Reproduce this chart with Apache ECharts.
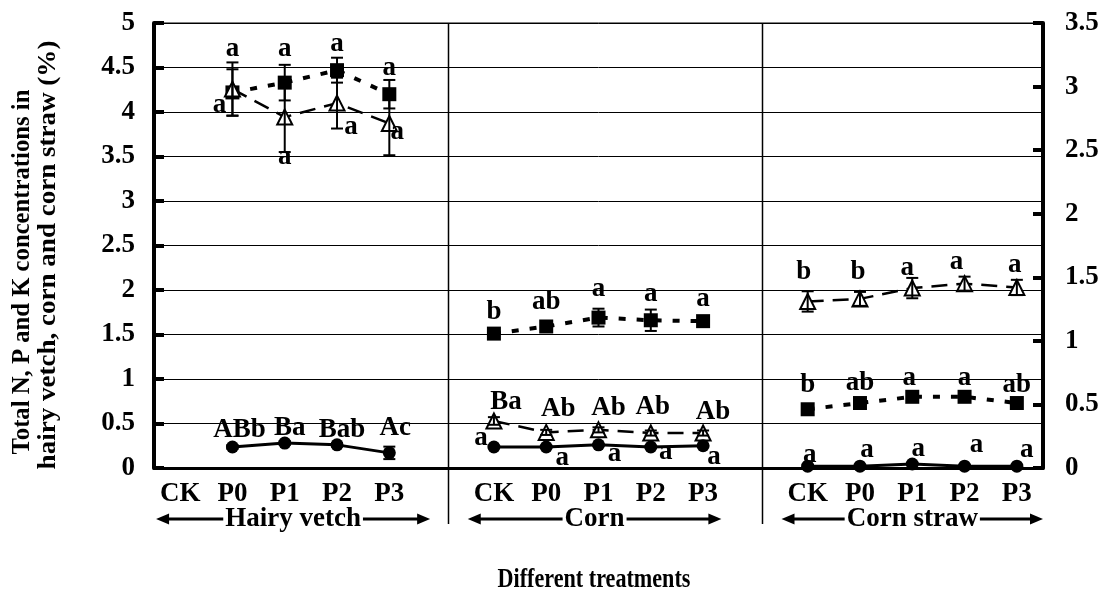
<!DOCTYPE html>
<html>
<head>
<meta charset="utf-8">
<script src="https://cdn.jsdelivr.net/npm/echarts@6/dist/echarts.min.js"></script>
<style>html,body{margin:0;padding:0;background:#fff}#chart{width:1106px;height:615px}</style>
</head>
<body>
<div id="chart"></div>
<script>
// ---------- data ----------
const categories = ['CK','P0','P1','P2','P3','','CK','P0','P1','P2','P3','','CK','P0','P1','P2','P3'];
const groupNames = ['Hairy vetch','Corn','Corn straw'];
const groupFirst = [0, 6, 12];
const groupLast = [4, 10, 16];
const leftMin = 0, leftMax = 5, leftStep = 0.5;
const rightMin = 0, rightMax = 3.5, rightStep = 0.5;

// Total N (filled squares, left axis)
const nValues = [null,4.22,4.33,4.47,4.20, null, 1.51,1.59,1.69,1.66,1.65, null, 0.66,0.73,0.80,0.80,0.73];
const nErrors = [null,0.26,0.20,0.14,0.16, null, 0.03,0.04,0.10,0.12,0.05, null, 0.02,0.02,0.02,0.02,0.02];
const nLetters = ['','a','a','a','a','', 'b','ab','a','a','a','', 'b','ab','a','a','ab'];
// Total K (open triangles, right axis)
const kValues = [null,2.98,2.76,2.87,2.71, null, 0.37,0.28,0.30,0.275,0.275, null, 1.31,1.33,1.415,1.45,1.42];
const kErrors = [null,0.21,0.275,0.20,0.25, null, 0.03,0.02,0.02,0.02,0.02, null, 0.08,0.055,0.08,0.055,0.06];
const kLetters = ['','a','a','a','a','', 'Ba','Ab','Ab','Ab','Ab','', 'b','b','a','a','a'];
// Total P (filled circles, left axis)
const pValues = [null,0.236,0.28,0.26,0.17, null, 0.236,0.236,0.26,0.236,0.25, null, 0.02,0.02,0.045,0.02,0.02];
const pErrors = [null,0.02,0.02,0.02,0.07, null, 0.01,0.01,0.01,0.01,0.01, null, 0.01,0.01,0.01,0.01,0.01];
const pLetters = ['','ABb','Ba','Bab','Ac','', 'a','a','a','a','a','', 'a','a','a','a','a'];

// ---------- style: letter placement relative to marker (px) ----------
const nLabelOffset = [null,[0,-43],[0,-34],[0,-26],[0,-26],null,[0,-22],[0,-24],[0,-29],[0,-26],[0,-22],null,[0,-24],[0,-20],[-3,-19],[0,-19],[0,-18]];
const kLabelOffset = [null,[-13,16],[0,40],[14,24],[8,9],null,[12,-19],[12,-23],[10,-22],[2,-26],[10,-21],null,[-4,-29],[-2,-27],[-5,-20],[-8,-22],[-2,-22]];
const pLabelOffset = [null,[7,-17],[5,-15],[5,-15],[6,-25],null,[-13,-9],[16,11],[16,9],[15,5],[11,11],null,[2,-11],[7,-16],[6,-15],[12,-21],[10,-16]];
const arrowExtend = [[0.46, 0.78], [0.5, 0.35], [0.5, 0.5]];

const FONT = '"Liberation Serif", "Times New Roman", serif';
const TXT = {fontFamily: FONT, fontWeight: 'bold', fontSize: 27, color: '#000'};

function pts(vals, errs) {
  const out = [];
  vals.forEach((v, i) => { if (v !== null) out.push([i, v, errs[i]]); });
  return out;
}

function errRender(params, api) {
  const i = api.value(0), v = api.value(1), e = api.value(2);
  const t = api.coord([i, v + e]), b = api.coord([i, v - e]);
  const hw = 6;
  const st = {stroke: '#000', lineWidth: 2, fill: null};
  return {type: 'group', children: [
    {type: 'line', shape: {x1: t[0], y1: t[1], x2: b[0], y2: b[1]}, style: st},
    {type: 'line', shape: {x1: t[0]-hw, y1: t[1], x2: t[0]+hw, y2: t[1]}, style: st},
    {type: 'line', shape: {x1: b[0]-hw, y1: b[1], x2: b[0]+hw, y2: b[1]}, style: st}
  ]};
}

function labelRenderFactory(letters, offsets) {
  return function (params, api) {
    const i = api.value(0), v = api.value(1);
    const c = api.coord([i, v]);
    const off = offsets[i] || [0, 0];
    return {type: 'text', x: c[0] + off[0], y: c[1] + off[1], z2: 10,
      style: {text: letters[i], fontFamily: FONT, fontWeight: 'bold', fontSize: 27, fill: '#000',
        align: 'center', verticalAlign: 'middle'}};
  };
}

const chart = echarts.init(document.getElementById('chart'), null, {renderer: 'canvas'});

const option = {
  animation: false,
  backgroundColor: '#fff',
  grid: {left: 154, right: 63, top: 23, bottom: 147, show: true, borderColor: '#000', borderWidth: 1},
  xAxis: {
    type: 'category', data: categories, boundaryGap: true,
    axisLine: {lineStyle: {color: '#000', width: 3}},
    axisTick: {inside: true, length: 10, lineStyle: {color: '#000', width: 2}},
    axisLabel: Object.assign({}, TXT, {margin: 13, interval: 0}),
    splitLine: {show: false}
  },
  yAxis: [
    {type: 'value', min: leftMin, max: leftMax, interval: leftStep, position: 'left',
     axisLine: {show: true, lineStyle: {color: '#000', width: 4}},
     axisTick: {show: true, inside: true, length: 10, lineStyle: {color: '#000', width: 4}},
     axisLabel: Object.assign({}, TXT, {margin: 19}),
     splitLine: {show: true, lineStyle: {color: '#000', width: 1}}},
    {type: 'value', min: rightMin, max: rightMax, interval: rightStep, position: 'right',
     axisLine: {show: true, lineStyle: {color: '#000', width: 4}},
     axisTick: {show: true, inside: true, length: 10, lineStyle: {color: '#000', width: 4}},
     axisLabel: Object.assign({}, TXT, {margin: 22}),
     splitLine: {show: false}}
  ],
  series: [
    {name: 'N', type: 'line', yAxisIndex: 0, data: nValues, connectNulls: false,
     symbol: 'rect', symbolSize: 14, itemStyle: {color: '#000'},
     lineStyle: {color: '#000', width: 4, type: [7, 11]}, z: 2},
    {name: 'K', type: 'line', yAxisIndex: 1, data: kValues, connectNulls: false,
     symbol: 'triangle', symbolSize: 15, itemStyle: {color: '#fff', borderColor: '#000', borderWidth: 2},
     lineStyle: {color: '#000', width: 2.5, type: [16, 9]}, z: 2},
    {name: 'P', type: 'line', yAxisIndex: 0, data: pValues, connectNulls: false,
     symbol: 'circle', symbolSize: 13, itemStyle: {color: '#000'},
     lineStyle: {color: '#000', width: 3}, z: 2},
    {type: 'custom', yAxisIndex: 0, data: pts(nValues, nErrors), renderItem: errRender, z: 4},
    {type: 'custom', yAxisIndex: 1, data: pts(kValues, kErrors), renderItem: errRender, z: 4},
    {type: 'custom', yAxisIndex: 0, data: pts(pValues, pErrors), renderItem: errRender, z: 4},
    {type: 'custom', yAxisIndex: 0, data: pts(nValues, nErrors), renderItem: labelRenderFactory(nLetters, nLabelOffset), z: 6},
    {type: 'custom', yAxisIndex: 1, data: pts(kValues, kErrors), renderItem: labelRenderFactory(kLetters, kLabelOffset), z: 6},
    {type: 'custom', yAxisIndex: 0, data: pts(pValues, pErrors), renderItem: labelRenderFactory(pLetters, pLabelOffset), z: 6}
  ]
};
chart.setOption(option);

// ---------- decorations placed from the axis scale ----------
const px = i => chart.convertToPixel({xAxisIndex: 0}, i);
const step = px(1) - px(0);
const yTop = chart.convertToPixel({yAxisIndex: 0}, leftMax);
const g = [];
[5, 11].forEach(i => {
  const x = Math.round(px(i) + 0.125 * step) + 0.5;
  g.push({type: 'line', shape: {x1: x, y1: yTop, x2: x, y2: 524}, style: {stroke: '#000', lineWidth: 1.5}, z: 1});
});
const arrowY = 519;
groupNames.forEach((name, k) => {
  const x1 = px(groupFirst[k]) - arrowExtend[k][0] * step;
  const x2 = px(groupLast[k]) + arrowExtend[k][1] * step;
  const cx = (x1 + x2) / 2;
  g.push({type: 'line', shape: {x1: x1 + 8, y1: arrowY, x2: x2 - 8, y2: arrowY}, style: {stroke: '#000', lineWidth: 3}, z: 5});
  g.push({type: 'polygon', shape: {points: [[x1, arrowY], [x1 + 13, arrowY - 5.5], [x1 + 13, arrowY + 5.5]]}, style: {fill: '#000'}, z: 5});
  g.push({type: 'polygon', shape: {points: [[x2, arrowY], [x2 - 13, arrowY - 5.5], [x2 - 13, arrowY + 5.5]]}, style: {fill: '#000'}, z: 5});
  g.push({type: 'text', x: cx, y: arrowY, z: 6,
    style: {text: name, fontFamily: FONT, fontWeight: 'bold', fontSize: 27, fill: '#000',
      align: 'center', verticalAlign: 'middle', backgroundColor: '#fff', padding: [0, 2]}});
});
g.push({type: 'text', x: 594, y: 580, scaleX: 0.82, style: {text: 'Different treatments', fontFamily: FONT, fontWeight: 'bold', fontSize: 27, fill: '#000', align: 'center', verticalAlign: 'middle'}});
g.push({type: 'text', x: 22, y: 272, rotation: Math.PI / 2, scaleX: 0.95, style: {text: 'Total N, P and K concentrations in', fontFamily: FONT, fontWeight: 'bold', fontSize: 26, fill: '#000', align: 'center', verticalAlign: 'middle'}});
g.push({type: 'text', x: 48, y: 255, rotation: Math.PI / 2, scaleX: 1.04, style: {text: 'hairy vetch, corn and corn straw (%)', fontFamily: FONT, fontWeight: 'bold', fontSize: 26, fill: '#000', align: 'center', verticalAlign: 'middle'}});
chart.setOption({graphic: {elements: g}});
</script>
</body>
</html>
